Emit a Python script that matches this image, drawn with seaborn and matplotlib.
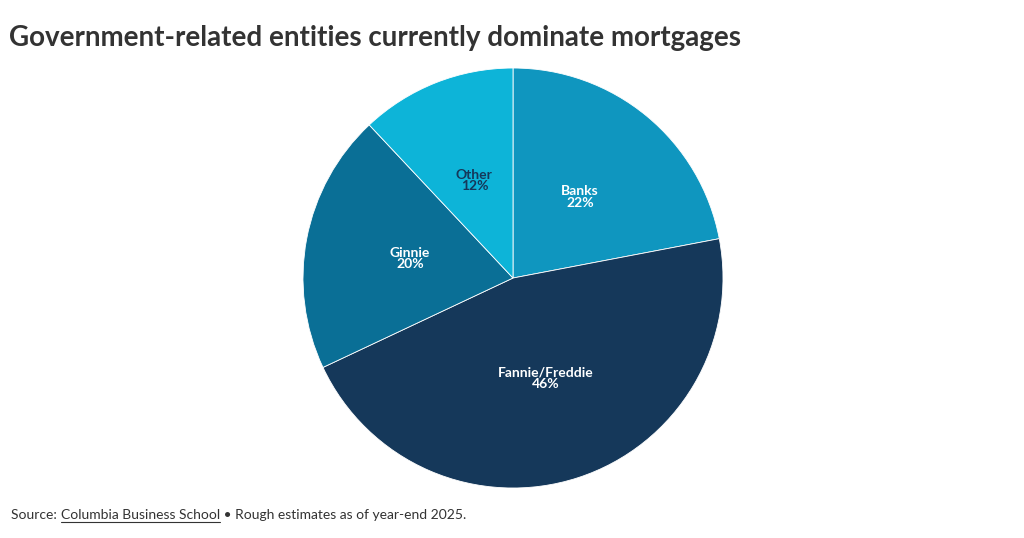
import matplotlib.pyplot as plt
import seaborn as sns

labels = ["Banks", "Fannie/Freddie", "Ginnie", "Other"]
shares = [22, 46, 20, 12]
colors = ["#0f96bf", "#15385a", "#0a6f96", "#0db4d8"]
text_colors = ["white", "white", "white", "#15385a"]

sns.set_theme(style="white")
plt.rcParams["font.family"] = ["Lato", "DejaVu Sans"]

fig = plt.figure(figsize=(10.24, 5.38), dpi=100)
ax = fig.add_axes([0.2959, 0.0929, 420 / 1024, 420 / 538])
wedges, texts = ax.pie(
    shares,
    labels=[f"{l}\n{s}%" for l, s in zip(labels, shares)],
    colors=colors,
    startangle=90,
    counterclock=False,
    labeldistance=0.5,
    wedgeprops=dict(edgecolor="white", linewidth=0.6),
    textprops=dict(fontsize=10, fontweight="bold", ha="center", va="center", linespacing=0.95),
)
for t, c in zip(texts, text_colors):
    t.set_color(c)
ax.set_xlim(-1, 1)
ax.set_ylim(-1, 1)
ax.set_aspect("equal")

fig.text(0.009, 0.915, "Government-related entities currently dominate mortgages",
         fontsize=20, fontweight="bold", color="#333333")
y0 = 0.035
t1 = fig.text(0.011, y0, "Source: ", fontsize=10, color="#333333")
fig.canvas.draw()
r = fig.canvas.get_renderer()
bb = t1.get_window_extent(r)
x1 = bb.x1 / fig.bbox.width
t2 = fig.text(x1, y0, "Columbia Business School", fontsize=10, color="#333333")
bb2 = t2.get_window_extent(r)
fig.add_artist(plt.Line2D([x1, bb2.x1 / fig.bbox.width], [y0 - 0.006, y0 - 0.006],
                          color="#333333", linewidth=0.8, transform=fig.transFigure))
fig.text(bb2.x1 / fig.bbox.width, y0, " • Rough estimates as of year-end 2025.",
         fontsize=10, color="#333333")
fig.savefig("out.png", dpi=100)
